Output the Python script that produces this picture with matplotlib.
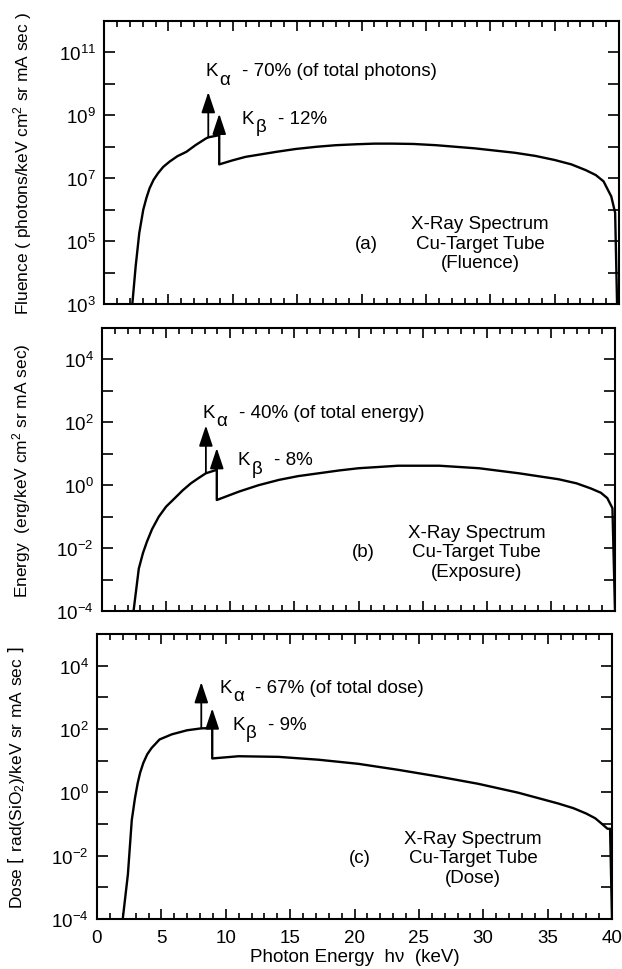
import numpy as np
import matplotlib
matplotlib.use('Agg')
import matplotlib.pyplot as plt
from matplotlib.ticker import MultipleLocator, NullFormatter

plt.rcParams['font.family'] = ['Liberation Sans', 'DejaVu Sans']
plt.rcParams['mathtext.default'] = 'regular'

# energies (keV) and log10 values
e_fluence = [2.2, 2.46, 2.74, 3.05, 3.3, 3.54, 3.85, 4.2, 4.6, 5.1, 5.7, 6.4, 7.1, 7.9, 8.1,
             8.95, 8.95, 10.0, 11.0, 13.4, 14.9, 16.5, 18.0, 19.6, 21.0, 22.4, 24.0, 25.8,
             28.8, 31.9, 33.5, 35.0, 36.3, 37.4, 38.2, 38.8, 39.4, 39.7, 39.85]
log_fluence = [3.0, 4.2, 5.26, 6.0, 6.38, 6.68, 6.95, 7.16, 7.36, 7.53, 7.7, 7.84, 8.05, 8.26, 8.3,
               8.37, 7.44, 7.57, 7.68, 7.84, 7.93, 8.0, 8.05, 8.08, 8.1, 8.1, 8.09, 8.05,
               7.95, 7.81, 7.71, 7.58, 7.44, 7.26, 7.1, 6.9, 6.42, 5.9, 3.0]

e_energy = [2.46, 2.87, 3.2, 3.5, 3.9, 4.43, 5.0, 5.68, 6.3, 6.93, 7.5, 8.1, 8.95, 8.95, 10.7,
            12.2, 13.8, 15.3, 16.9, 18.5, 20.0, 23.1, 26.3, 29.4, 32.5, 35.6, 37.0, 38.1,
            38.9, 39.4, 39.8, 40.0]
log_energy = [-4.0, -2.65, -2.15, -1.8, -1.4, -1.0, -0.68, -0.41, -0.16, 0.06, 0.22, 0.38, 0.49,
              -0.47, -0.2, 0.0, 0.17, 0.29, 0.38, 0.47, 0.54, 0.62, 0.62, 0.54, 0.38, 0.19,
              0.06, -0.1, -0.24, -0.41, -0.73, -4.0]

e_dose = [2.0, 2.4, 2.7, 2.95, 3.16, 3.35, 3.6, 3.9, 4.24, 4.86, 5.8, 7.0, 8.1, 8.95, 8.95,
          11.0, 14.1, 17.2, 20.3, 23.4, 26.5, 29.6, 32.7, 35.8, 37.0, 38.0, 38.7, 39.2,
          39.65, 39.85, 40.0]
log_dose = [-4.0, -2.59, -0.88, -0.18, 0.29, 0.62, 0.93, 1.2, 1.4, 1.67, 1.83, 1.96, 2.02, 2.03,
            1.07, 1.14, 1.12, 1.03, 0.9, 0.71, 0.5, 0.27, -0.01, -0.35, -0.5, -0.67, -0.82,
            -0.99, -1.15, -1.15, -4.0]

# K lines: energy, arrow top (log10) per panel
k_alpha = 8.1
k_beta = 8.95
ka_top = [9.74, 1.9, 3.48]
kb_top = [9.05, 1.18, 2.65]

ylabels = ['Fluence ( photons/keV cm$^2$ sr mA sec )',
           'Energy  (erg/keV cm$^2$ sr mA sec)',
           r'Dose $\left[\ \mathregular{rad(SiO_2)/keV\ sr\ mA\ sec}\ \right]$']
ka_text = ['- 70% (of total photons)', '- 40% (of total energy)', '- 67% (of total dose)']
kb_text = ['- 12%', '- 8%', '- 9%']
ka_text_pos = [(7.9, 10.42), (7.86, 2.31), (9.5, 3.32)]
kb_text_pos = [(10.7, 8.9), (10.6, 0.81), (10.5, 2.15)]
block_text = ['X-Ray Spectrum\nCu-Target Tube\n(Fluence)',
              'X-Ray Spectrum\nCu-Target Tube\n(Exposure)',
              'X-Ray Spectrum\nCu-Target Tube\n(Dose)']
block_y = [4.93, -2.12, -2.07]
panel_tags = ['(a)', '(b)', '(c)']
ylims = [(3, 12), (-4, 5), (-4, 5)]
label_exps = [[3, 5, 7, 9, 11], [-4, -2, 0, 2, 4], [-4, -2, 0, 2, 4]]

curves = [(e_fluence, log_fluence), (e_energy, log_energy), (e_dose, log_dose)]

fig = plt.figure(figsize=(6.22, 9.70), dpi=100)
rects = [[104 / 622, 1 - 305 / 970, 515 / 622, 283 / 970],
         [102 / 622, 1 - 612 / 970, 513 / 622, 283 / 970],
         [97 / 622, 1 - 920 / 970, 515 / 622, 285 / 970]]

FS = 13.5


def k_label(ax, x, ly, greek, rest):
    # "K" with a large, dropped greek subscript, then the percentage text
    y = 10.0 ** ly
    ax.annotate('K', (x, y), xytext=(0, 0), textcoords='offset points',
                fontsize=FS, va='center', ha='left')
    ax.annotate(greek, (x, y), xytext=(10, -6), textcoords='offset points',
                fontsize=FS, va='center', ha='left')
    ax.annotate(rest, (x, y), xytext=(26, 0), textcoords='offset points',
                fontsize=FS, va='center', ha='left')


for i in range(3):
    ax = fig.add_axes(rects[i])
    x, ly = curves[i]
    y = 10.0 ** np.array(ly)
    ax.plot(x, y, color='k', lw=1.7)
    ax.set_yscale('log')
    lo, hi = ylims[i]
    ax.set_ylim(10.0 ** lo, 10.0 ** hi)
    ax.set_xlim(0, 40)

    # K-line arrows sitting on the continuum
    ia = x.index(k_alpha)
    ib = x.index(k_beta)
    for ke, top, base in [(k_alpha, ka_top[i], ly[ia]), (k_beta, kb_top[i], ly[ib])]:
        ax.annotate('', xy=(ke, 10.0 ** top), xytext=(ke, 10.0 ** base),
                    arrowprops=dict(arrowstyle='-|>,head_length=0.9,head_width=0.3',
                                    color='k', lw=1.3, mutation_scale=14,
                                    shrinkA=0, shrinkB=0))

    k_label(ax, *ka_text_pos[i], '\u03b1', ka_text[i])
    k_label(ax, *kb_text_pos[i], '\u03b2', kb_text[i])
    ax.text(29.2, 10.0 ** block_y[i], block_text[i], fontsize=FS, ha='center',
            va='center', linespacing=1.2)
    ax.text(20.4, 10.0 ** block_y[i], panel_tags[i], fontsize=FS, ha='center', va='center')

    exps = label_exps[i]
    ax.set_yticks([10.0 ** e for e in exps])
    ax.set_yticks([10.0 ** (e + 1) for e in exps], minor=True)
    ax.yaxis.set_minor_formatter(NullFormatter())
    ax.xaxis.set_major_locator(MultipleLocator(5))
    ax.xaxis.set_minor_locator(MultipleLocator(1))

    ax.tick_params(which='both', direction='in', top=True, right=True, width=1.2,
                   labelsize=13.5)
    ax.tick_params(axis='x', which='major', length=7, pad=7)
    ax.tick_params(axis='x', which='minor', length=4)
    ax.tick_params(axis='y', which='both', length=8, pad=6)
    for s in ax.spines.values():
        s.set_linewidth(1.5)

    ax.set_ylabel(ylabels[i], fontsize=12.5)
    ax.yaxis.set_label_coords(-0.135, 0.5)
    if i < 2:
        ax.tick_params(axis='x', labelbottom=False)
    else:
        ax.set_xlabel('Photon Energy  h\u03bd  (keV)', fontsize=13.5, labelpad=2)

fig.savefig('out.png', dpi=100)
